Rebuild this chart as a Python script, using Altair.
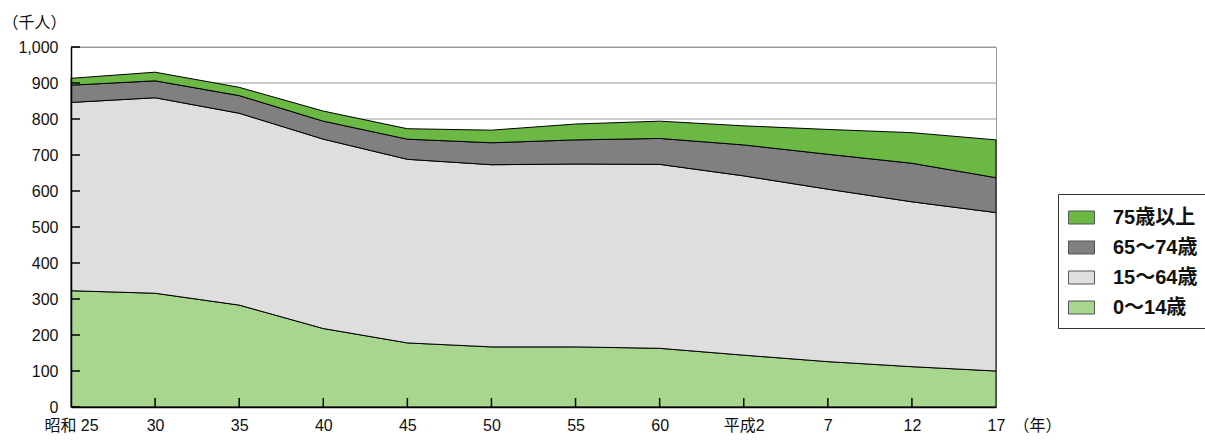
import altair as alt
import pandas as pd

# Census years (Showa 25 .. Heisei 17) and their axis labels
years = [1950, 1955, 1960, 1965, 1970, 1975, 1980, 1985, 1990, 1995, 2000, 2005]
year_labels = ["昭和 25", "30", "35", "40", "45", "50", "55", "60", "平成2", "7", "12", "17"]

# Population by age group, thousands of people
age_groups = ["0〜14歳", "15〜64歳", "65〜74歳", "75歳以上"]
pop_0_14 = [323, 316, 283, 218, 178, 167, 167, 163, 144, 126, 112, 100]
pop_15_64 = [523, 543, 533, 526, 510, 506, 508, 511, 498, 479, 458, 440]
pop_65_74 = [48, 47, 49, 50, 56, 61, 67, 72, 86, 97, 107, 97]
pop_75_plus = [19, 24, 23, 28, 29, 35, 44, 48, 53, 69, 85, 105]
group_colors = ["#a8d68f", "#dedede", "#808080", "#6cb844"]

y_ticks = list(range(0, 1001, 100))

series = [pop_0_14, pop_15_64, pop_65_74, pop_75_plus]
rows = []
for rank, (group, values) in enumerate(zip(age_groups, series)):
    for yr, v in zip(years, values):
        rows.append({"year": yr, "group": group, "pop": v, "rank": rank})
df = pd.DataFrame(rows)

ticks_y = pd.DataFrame({"pop": y_ticks})
ticks_x = pd.DataFrame({"year": years[1:-1]})

FONT = "Liberation Sans, Noto Sans CJK JP"
W, H = 925, 360

label_array = "[" + ",".join(f"'{s}'" for s in year_labels) + "]"

x_scale = alt.Scale(domain=[years[0], years[-1]], nice=False, zero=False)
y_scale = alt.Scale(domain=[0, 1000], nice=False)

legend_order = age_groups[::-1]
color_order = group_colors[::-1]

x_axis = alt.Axis(
    values=years,
    labelExpr=f"{label_array}[round((datum.value - {years[0]}) / 5)]",
    grid=False,
    ticks=False,
    tickSize=0,
    labelFlush=False,
    labelOverlap=False,
    labelPadding=18,
    labelBaseline="middle",
    labelFontSize=16,
    labelFont=FONT,
    labelColor="#111",
    domainColor="black",
    domainWidth=1.5,
    title="（年）",
    titleAngle=0,
    titleX=942,
    titleY=18,
    titleAlign="left",
    titleBaseline="middle",
    titleFontSize=16,
    titleFontWeight="normal",
    titleFont=FONT,
    titleColor="#111",
    zindex=1,
)

y_axis = alt.Axis(
    values=y_ticks,
    format=",d",
    grid=False,
    ticks=False,
    tickSize=0,
    labelFlush=False,
    labelOverlap=False,
    labelPadding=13,
    labelFontSize=16,
    labelFont=FONT,
    labelColor="#111",
    domainColor="black",
    domainWidth=1.5,
    title="（千人）",
    titleAngle=0,
    titleX=-69,
    titleY=-25,
    titleAlign="left",
    titleBaseline="middle",
    titleFontSize=16,
    titleFontWeight="normal",
    titleFont=FONT,
    titleColor="#111",
    zindex=1,
)

# Horizontal gridlines behind the areas
grid = alt.Chart(ticks_y).mark_rule(color="#999999", strokeWidth=1).encode(
    y=alt.Y("pop:Q", scale=y_scale, axis=y_axis),
    x=alt.value(0),
    x2=alt.value(W),
)

areas = alt.Chart(df).mark_area(stroke="black", strokeWidth=1, opacity=1).encode(
    x=alt.X("year:Q", scale=x_scale, axis=x_axis),
    y=alt.Y("pop:Q", stack="zero", scale=y_scale, axis=y_axis),
    color=alt.Color(
        "group:N",
        scale=alt.Scale(domain=legend_order, range=color_order),
        sort=legend_order,
        legend=alt.Legend(
            title=None,
            orient="none",
            legendX=987,
            legendY=147,
            strokeColor="#333333",
            fillColor="white",
            padding=10,
            symbolType="M-1,-0.5H1V0.5H-1Z",
            symbolSize=676,
            symbolStrokeColor="#555555",
            symbolStrokeWidth=1,
            labelFontSize=20,
            labelFontWeight="bold",
            labelFont=FONT,
            labelColor="#111",
            labelOffset=18,
            rowPadding=6,
        ),
    ),
    order=alt.Order("rank:Q", sort="ascending"),
)

# Inward-pointing tick marks drawn over the areas
yticks = alt.Chart(ticks_y).mark_rule(color="black", strokeWidth=1.5).encode(
    y=alt.Y("pop:Q", scale=y_scale, axis=y_axis),
    x=alt.value(0),
    x2=alt.value(9),
)

xticks = alt.Chart(ticks_x).mark_rule(color="black", strokeWidth=1.5).encode(
    x=alt.X("year:Q", scale=x_scale, axis=x_axis),
    y=alt.value(H),
    y2=alt.value(H - 9),
)

chart = (
    alt.layer(grid, areas, yticks, xticks)
    .properties(
        width=W,
        height=H,
        autosize=alt.AutoSizeParams(type="none"),
        padding={"left": 71, "top": 47, "right": 209, "bottom": 34},
        background="white",
    )
    .configure_view(stroke="#999999", strokeWidth=1)
)

chart.save("out.html", embed_options={"renderer": "svg", "actions": False})
